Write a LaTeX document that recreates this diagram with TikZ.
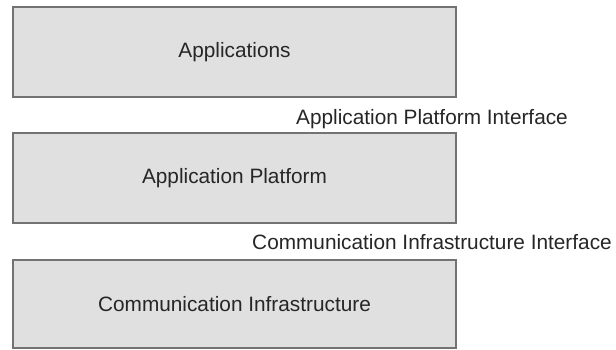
\documentclass[tikz,border=0pt]{standalone}
\usepackage{fontspec}
\setmainfont{Liberation Sans}
\begin{document}
\begin{tikzpicture}[x=1pt, y=-1pt,
    layer/.style={draw=black!55, fill=black!12, line width=1.6pt,
        minimum width=443pt, inner sep=0pt, text=black!85,
        font=\fontsize{20.8}{24}\selectfont},
    iface/.style={anchor=base, text=black!85,
        font=\fontsize{20.8}{24}\selectfont}]
        \useasboundingbox (0,0) rectangle (616,349);

        \node[layer, minimum height=90pt] (apps) at (234.5,52) {Applications};
        \node[layer, minimum height=90pt] (platform) at (234.5,178) {Application Platform};
        \node[layer, minimum height=88pt] (infra) at (234.5,304) {Communication Infrastructure};

        \node[iface] (api) at (432,124) {Application Platform Interface};
        \node[iface] (cii) at (432,249) {Communication Infrastructure Interface};
    \end{tikzpicture}
\end{document}
